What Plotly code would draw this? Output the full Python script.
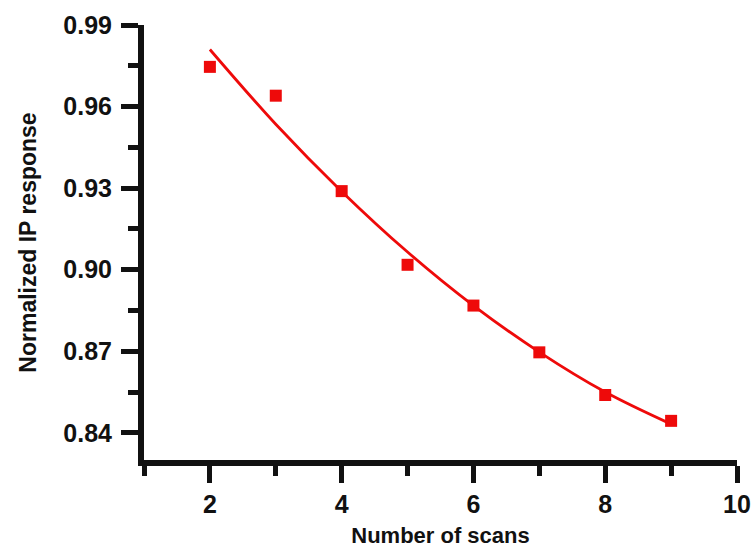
import plotly.graph_objects as go

# Measured response versus number of scans
scans = [2, 3, 4, 5, 6, 7, 8, 9]
response = [0.9746, 0.9640, 0.9289, 0.9018, 0.8868, 0.8696, 0.8539, 0.8444]

# Fitted trend line values at each scan count
fit_response = [0.9810, 0.9535, 0.9288, 0.9065, 0.8868, 0.8697, 0.8550, 0.8432]

y_ticks = [0.84, 0.87, 0.90, 0.93, 0.96, 0.99]
y_labels = ["0.84", "0.87", "0.90", "0.93", "0.96", "0.99"]
x_ticks = [2, 4, 6, 8, 10]

RED = "#ee0a0a"
INK = "#111111"
FONT = "Liberation Sans, Arial, sans-serif"

fig = go.Figure()
fig.add_trace(go.Scatter(
    x=scans, y=fit_response, mode="lines",
    line=dict(color=RED, width=2.8, shape="spline", smoothing=1.0),
    hoverinfo="skip", showlegend=False,
))
fig.add_trace(go.Scatter(
    x=scans, y=response, mode="markers",
    marker=dict(symbol="square", size=12, color=RED, line=dict(width=0)),
    showlegend=False,
))

axis_common = dict(
    showgrid=False, zeroline=False, showline=True, automargin=False,
    linecolor=INK, linewidth=6, mirror=False,
    ticks="outside", ticklen=17, tickwidth=5, tickcolor=INK,
    tickfont=dict(family=FONT, size=25, color=INK, weight="bold"),
)

fig.update_xaxes(
    range=[1, 10], tickvals=x_ticks,
    minor=dict(ticks="outside", ticklen=10, tickwidth=5, tickcolor=INK,
               tick0=1, dtick=2),
    ticklabelstandoff=0,
    title=dict(text="Number of scans", standoff=13,
               font=dict(family=FONT, size=22, color=INK, weight="bold")),
    **axis_common,
)
fig.update_yaxes(
    range=[0.83, 0.99], tickvals=y_ticks, ticktext=y_labels,
    minor=dict(ticks="outside", ticklen=10, tickwidth=5, tickcolor=INK,
               tick0=0.855, dtick=0.03),
    ticklabelstandoff=4,
    title=dict(text="Normalized IP response", standoff=22,
               font=dict(family=FONT, size=23, color=INK, weight="bold")),
    **axis_common,
)

fig.update_layout(
    width=751, height=550,
    margin=dict(l=144, r=14, t=25, b=90),
    paper_bgcolor="white", plot_bgcolor="white",
)

fig.write_html("out.html")
